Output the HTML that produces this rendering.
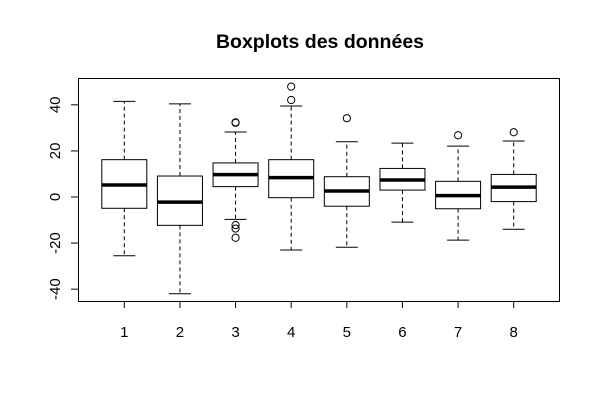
<!DOCTYPE html>
<html><head><meta charset="utf-8"><style>
html,body{margin:0;padding:0;background:#fff}
svg{display:block;font-family:"Liberation Sans",sans-serif}
</style></head><body>
<svg id="chart" width="600" height="400">
<text x="320" y="48" text-anchor="middle" font-size="19.5" font-weight="bold">Boxplots des données</text>
<rect x="78.5" y="78.5" width="481" height="223" fill="none" stroke="#000" stroke-width="1"/>
<g id="yaxis"></g>
<g id="xaxis"></g>
<g id="boxes"></g>
</svg>
<script>
const categories = ["1","2","3","4","5","6","7","8"];
const lowWhisker = [-25.5,-42,-9.7,-23,-21.8,-10.9,-18.7,-14];
const q1 = [-4.9,-12.3,4.5,-0.3,-4.0,3.0,-5.1,-2.0];
const medians = [5.2,-2.2,9.7,8.4,2.6,7.4,0.6,4.3];
const q3 = [16.2,9.1,14.8,16.2,8.8,12.4,6.8,9.8];
const highWhisker = [41.5,40.4,28.2,39.5,24,23.4,22.1,24.3];
const outliers = [[],[],[32.4,32.2,-12.2,-13.7,-17.7],[47.9,42.1],[34.2],[],[26.8],[28.1]];
const yTicks = [-40,-20,0,20,40];

const NS="http://www.w3.org/2000/svg";
function y(v){return 197-v*2.304;}
function x(i){return 124.3+i*55.63;}
function mk(parent,tag,attrs){const e=document.createElementNS(NS,tag);for(const k in attrs)e.setAttribute(k,attrs[k]);parent.appendChild(e);return e;}
const ya=document.getElementById('yaxis'),xa=document.getElementById('xaxis'),bx=document.getElementById('boxes');
mk(ya,'line',{x1:78.5,x2:78.5,y1:y(yTicks[yTicks.length-1]),y2:y(yTicks[0]),stroke:'#000'});
yTicks.forEach(t=>{
  const l=mk(ya,'line',{x1:71,x2:78.5,y1:y(t),y2:y(t),stroke:'#000'});
  
  
  const tx=mk(ya,'text',{x:0,y:0,'font-size':15,'text-anchor':'middle',transform:`translate(60,${y(t)}) rotate(-90)`});
  tx.textContent=t;
  
  
});
mk(xa,'line',{x1:x(0),x2:x(categories.length-1),y1:301.5,y2:301.5,stroke:'#000'});
categories.forEach((c,i)=>{
  const cx=x(i);
  const l=mk(xa,'line',{x1:cx,x2:cx,y1:301.5,y2:308,stroke:'#000'});
  
  
  const tx=mk(xa,'text',{x:cx,y:337,'font-size':15,'text-anchor':'middle'});
  tx.textContent=c;
  
  
  const g=mk(bx,'g',{});
  
  
  mk(g,'line',{x1:cx,x2:cx,y1:y(q3[i]),y2:y(highWhisker[i]),stroke:'#000','stroke-dasharray':'4,3'});
  mk(g,'line',{x1:cx,x2:cx,y1:y(q1[i]),y2:y(lowWhisker[i]),stroke:'#000','stroke-dasharray':'4,3'});
  mk(g,'line',{x1:cx-11,x2:cx+11,y1:y(highWhisker[i]),y2:y(highWhisker[i]),stroke:'#000'});
  mk(g,'line',{x1:cx-11,x2:cx+11,y1:y(lowWhisker[i]),y2:y(lowWhisker[i]),stroke:'#000'});
  mk(g,'rect',{x:cx-22.5,y:y(q3[i]),width:45,height:y(q1[i])-y(q3[i]),fill:'#fff',stroke:'#000'});
  mk(g,'line',{x1:cx-22.5,x2:cx+22.5,y1:y(medians[i]),y2:y(medians[i]),stroke:'#000','stroke-width':3.5});
  outliers[i].forEach(o=>{
    const p=mk(g,'circle',{cx:cx,cy:y(o),r:3.6,fill:'none',stroke:'#000'});
    
    
  });
});
</script>
</body></html>
